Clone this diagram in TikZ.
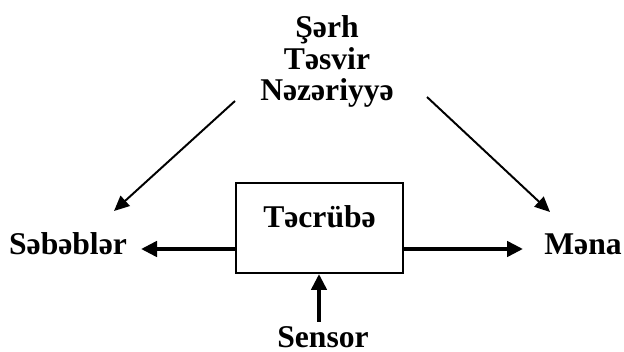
\documentclass[tikz,border=0pt]{standalone}
\usepackage{fontspec}
\setmainfont{Liberation Serif}
\usepackage{tikz}
\usetikzlibrary{arrows.meta, positioning}

\tikzset{
  word/.style={font=\bfseries\fontsize{22.5}{22.7}\selectfont, inner sep=0pt, anchor=base},
  expbox/.style={draw, line width=1.4pt, minimum width=4.18cm, minimum height=2.25cm,
    font=\bfseries\fontsize{22.5}{23}\selectfont, text height=0.7em, text depth=0.7em},
  thick arrow/.style={line width=2.8pt, -{Triangle[length=0.4cm, width=0.38cm]}},
  thin arrow/.style={line width=1.4pt, -{Triangle[length=0.38cm, width=0.34cm]}}
}

\begin{document}
\begin{tikzpicture}[x=0.025cm, y=-0.025cm]
\useasboundingbox (0,0) rectangle (624,352);
% the three words on top
\node[word, align=center] (top) at (327,101) {Şərh\\Təsvir\\Nəzəriyyə};
% experience box and the words around it
\node[expbox] (exp) at (319.5,228) {Təcrübə};
\node[word] (cause) at (68,255) {Səbəblər};
\node[word] (mean) at (583,255) {Məna};
\node[word] (sens) at (323,348) {Sensor};
% free ends of the slanted arrows
\coordinate (tl) at (235,101);
\coordinate (tr) at (427,97);
\coordinate (cl) at (114,211);
\coordinate (mr) at (550,212);
\draw[thin arrow] (tl) -- (cl);
\draw[thin arrow] (tr) -- (mr);
% thick arrows out of and into the box
\draw[thick arrow] (exp.west |- 0,249) -- (141,249);
\draw[thick arrow] (exp.east |- 0,249) -- (523,249);
\draw[thick arrow] (319,322) -- (exp.south -| 319,0);
\end{tikzpicture}
\end{document}
